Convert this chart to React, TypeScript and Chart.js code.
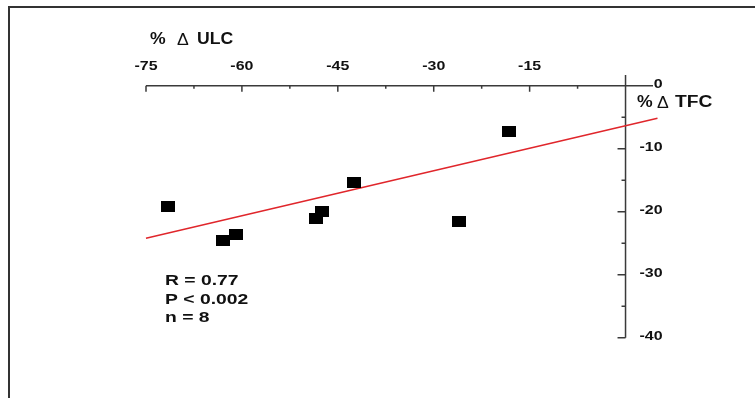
import { useEffect, useRef } from "react";
import { Chart, registerables } from "chart.js";

Chart.register(...registerables);

// ---- data ----
const ulcChange = [-71.6, -62.9, -61.0, -48.4, -47.5, -42.5, -26.0, -18.2];
const tfcChange = [-19.1, -24.5, -23.6, -21.1, -20.0, -15.4, -21.6, -7.3];
const fitX = [-75, 5];
const fitY = [-24.2, -5.15];
const xTicks = [-75, -60, -45, -30, -15];
const xMinorTicks = [-67.5, -52.5, -37.5, -22.5, -7.5];
const yTicks = [0, -10, -20, -30, -40];
const yMinorTicks = [-5, -15, -25, -35];
const statLines = ["R = 0.77", "P < 0.002", "n = 8"];
const xTitle = ["%", "Δ", "ULC"];
const yTitle = ["%", "Δ", "TFC"];

const X_MIN = -75;
const X_MAX = 5;
const Y_MIN = -40;
const Y_MAX = 1.7;
const X_AXIS_END = 4.3;

const FONT = '"Liberation Sans", Arial, sans-serif';

function stretchedText(
  ctx: CanvasRenderingContext2D,
  text: string,
  x: number,
  y: number,
  font: string,
  align: CanvasTextAlign,
  sx: number
) {
  ctx.save();
  ctx.font = font;
  ctx.textBaseline = "middle";
  ctx.textAlign = align;
  ctx.translate(x, y);
  ctx.scale(sx, 1);
  ctx.fillText(text, 0, 0);
  ctx.restore();
}

const axesPlugin = {
  id: "customAxes",
  beforeDatasetsDraw(chart: any) {
    const { ctx } = chart;
    const xs = chart.scales.x;
    const ys = chart.scales.y;
    const x0 = xs.getPixelForValue(0);
    const y0 = ys.getPixelForValue(0);
    ctx.save();
    ctx.strokeStyle = "#3a3a3a";
    ctx.lineWidth = 1.5;
    ctx.beginPath();
    ctx.moveTo(xs.getPixelForValue(X_MIN), y0);
    ctx.lineTo(xs.getPixelForValue(X_AXIS_END), y0);
    ctx.moveTo(x0, ys.getPixelForValue(Y_MAX));
    ctx.lineTo(x0, ys.getPixelForValue(Y_MIN));
    for (const v of xTicks) {
      const p = xs.getPixelForValue(v);
      ctx.moveTo(p, y0);
      ctx.lineTo(p, y0 + 6);
    }
    for (const v of xMinorTicks) {
      const p = xs.getPixelForValue(v);
      ctx.moveTo(p, y0);
      ctx.lineTo(p, y0 + 3);
    }
    for (const v of yTicks) {
      if (v === 0) continue;
      const p = ys.getPixelForValue(v);
      ctx.moveTo(x0, p);
      ctx.lineTo(x0 - 8, p);
    }
    for (const v of yMinorTicks) {
      const p = ys.getPixelForValue(v);
      ctx.moveTo(x0, p);
      ctx.lineTo(x0 - 4, p);
    }
    ctx.stroke();

    ctx.fillStyle = "#111";
    const tickFont = `bold 12px ${FONT}`;
    for (const v of xTicks) {
      stretchedText(ctx, String(v), xs.getPixelForValue(v), y0 - 19, tickFont, "center", 1.33);
    }
    for (const v of yTicks) {
      stretchedText(ctx, String(v), x0 + 37, ys.getPixelForValue(v) - 1, tickFont, "right", 1.33);
    }
    ctx.restore();
  },
  afterDraw(chart: any) {
    const { ctx } = chart;
    ctx.save();
    ctx.fillStyle = "#111";
    const titleFont = `bold 16px ${FONT}`;
    const deltaFont = `16px ${FONT}`;
    // x title
    stretchedText(ctx, xTitle[0], 150, 40, titleFont, "left", 1.1);
    stretchedText(ctx, xTitle[1], 177, 41, deltaFont, "left", 1.1);
    stretchedText(ctx, xTitle[2], 197, 40, titleFont, "left", 1.1);
    // y title
    stretchedText(ctx, yTitle[0], 637, 103, titleFont, "left", 1.1);
    stretchedText(ctx, yTitle[1], 657, 104, deltaFont, "left", 1.1);
    stretchedText(ctx, yTitle[2], 675, 103, titleFont, "left", 1.2);
    // stats
    const statFont = `bold 14px ${FONT}`;
    statLines.forEach((s, i) => {
      stretchedText(ctx, s, 165, 281.5 + i * 18.5, statFont, "left", 1.38);
    });
    ctx.restore();
  },
};

export default function App() {
  const ref = useRef<HTMLCanvasElement | null>(null);

  useEffect(() => {
    document.body.style.margin = "0";
    const canvas = ref.current;
    if (!canvas) return;
    const marker = document.createElement("canvas");
    marker.width = 14;
    marker.height = 11;
    const mctx = marker.getContext("2d")!;
    mctx.fillStyle = "#000";
    mctx.fillRect(0, 0, 14, 11);

    const chart = new Chart(canvas, {
      type: "scatter",
      data: {
        datasets: [
          {
            type: "scatter",
            label: "data",
            data: ulcChange.map((v, i) => ({ x: v, y: tfcChange[i] })),
            pointStyle: marker as any,
            pointRadius: 7,
            order: 0,
          },
          {
            type: "line",
            label: "fit",
            data: fitX.map((v, i) => ({ x: v, y: fitY[i] })),
            borderColor: "#e0262b",
            borderWidth: 1.5,
            pointRadius: 0,
            fill: false,
            clip: false as any,
            order: 1,
          } as any,
        ],
      },
      options: {
        animation: false,
        responsive: false,
        maintainAspectRatio: false,
        layout: { padding: { left: 146, right: 97.5, top: 75, bottom: 60.3 } },
        plugins: { legend: { display: false }, tooltip: { enabled: false } },
        scales: {
          x: { type: "linear", min: X_MIN, max: X_MAX, display: false },
          y: { type: "linear", min: Y_MIN, max: Y_MAX, display: false },
        },
      },
      plugins: [axesPlugin],
    });
    return () => chart.destroy();
  }, []);

  return (
    <div style={{ position: "relative", width: 755, height: 398, background: "#fff" }}>
      <canvas ref={ref} width={755} height={398} style={{ position: "absolute", left: 0, top: 0 }} />
      <div
        style={{
          position: "absolute",
          left: 8,
          top: 6,
          width: 747,
          height: 392,
          borderTop: "2px solid #333",
          borderLeft: "2px solid #333",
          boxSizing: "border-box",
          pointerEvents: "none",
        }}
      />
    </div>
  );
}
